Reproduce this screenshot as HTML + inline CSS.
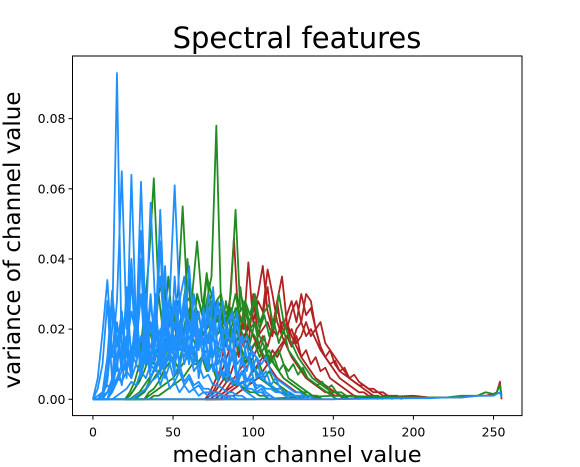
<!DOCTYPE html>
<html><head><meta charset="utf-8"><style>
body{margin:0;background:#fff;}
svg{display:block;font-family:"DejaVu Sans","Liberation Sans",sans-serif;}
</style></head><body>
<svg id="chart" width="580" height="467">
<rect width="580" height="467" fill="#fff"/>
<text x="297" y="48" text-anchor="middle" font-size="29">Spectral features</text>
<text x="297" y="462" text-anchor="middle" font-size="22.5">median channel value</text>
<text transform="translate(20,240) rotate(-90)" text-anchor="middle" font-size="23">variance of channel value</text>
<g id="plot"></g>
<g id="axes"></g>
</svg>
<script>
// values in thousandths of variance
const blueStart = 0, blueStep = 3;
const blueSeries = [
[0,0,1,5,20,93,10,30,12,25,8,15,6,10,4,8,3,5,2,4,2,3,1,2,1,1,1,1,0],
[0,6,19,34,12,28,65,20,40,15,30,10,22,8,15,6,10,5,8,4,6,3,4,2,2,1,1,1,1,0],
[0,0,0,8,31,15,25,12,64,20,48,14,30,12,20,9,14,7,10,5,7,4,5,3,3,2,2,1,1,1,0],
[0,0,0,0,5,12,20,15,25,18,62,20,56,25,35,18,28,14,20,10,15,8,10,6,7,4,4,3,2,2,1,1,0],
[0,0,0,0,2,5,8,10,15,12,18,14,22,18,54,20,30,61,28,35,20,25,15,22,12,18,10,15,8,12,6,8,5,6,4,4,3,3,2,2,1,1,1,0],
[0,0,0,0,0,1,2,3,5,4,8,6,10,8,12,10,15,12,28,14,20,18,25,15,30,20,26,18,22,25,15,18,12,10,8,6,5,4,3,3,2,1,1,1,0],
[0,0,1,2,4,6,10,8,14,10,18,12,15,20,12,25,18,14,22,16,38,20,18,15,24,12,20,28,14,18,10,12,8,14,6,8,5,4,6,3,2,2,1,1,1,0],
[0,0,0,0,0,0,0,0,0,1,2,3,5,6,8,10,12,10,15,12,18,14,20,16,18,22,15,20,18,24,20,16,18,14,12,10,12,8,6,5,4,3,2,2,1,1,0],
[0,3,10,28,5,18,8,32,10,22,6,26,9,30,7,20,12,28,8,18,10,24,6,15,8,20,5,12,6,14,4,8,3,6,2,3,1,1,0],
[0,0,2,12,30,8,25,6,35,12,40,10,28,15,45,12,25,8,30,14,22,10,18,12,26,8,14,6,10,4,6,3,2,1,0],
[0,0,0,0,3,10,4,15,6,20,8,30,10,25,14,38,12,22,16,30,10,20,14,26,9,32,12,18,8,20,6,12,5,8,3,4,2,1,0],
[0,0,0,2,6,22,9,18,7,26,10,20,8,24,15,28,10,35,14,26,12,30,18,24,16,22,28,14,20,12,25,10,16,8,12,6,8,4,3,2,1,0],
[0,1,2,4,3,6,5,8,6,10,7,12,9,14,10,16,12,18,10,15,12,14,10,12,8,10,6,8,5,6,4,5,3,3,2,2,1,1,0]
];
const greenStart = 20, greenStep = 3;
const greenSeries = [
[0,1,3,5,8,12,10,15,12,18,14,20,16,22,18,25,20,28,35,78,25,20,18,22,15,12,10,8,6,5,4,3,2,2,1,1,1,0],
[0,2,5,10,25,40,63,30,35,20,25,15,20,12,15,10,12,8,10,6,8,5,6,4,4,3,2,2,1,1,0],
[0,0,1,2,4,6,8,10,14,20,25,30,55,28,30,25,20,35,30,25,28,22,30,54,25,28,20,22,18,15,12,10,8,6,5,4,3,2,1,1,0],
[0,0,0,1,2,4,6,8,10,12,15,20,25,22,30,45,28,25,30,22,26,20,24,30,22,25,20,18,15,12,14,10,8,6,5,4,3,2,2,1,1,0],
[0,0,0,0,0,1,2,3,4,5,6,8,10,12,14,16,18,20,22,18,20,25,22,26,20,28,24,30,22,25,27,20,30,22,18,15,12,10,8,6,5,4,3,2,2,1,0],
[0,0,0,0,0,0,1,1,2,3,4,5,6,8,10,10,12,14,12,15,14,16,18,15,20,17,14,16,12,15,10,12,14,10,8,10,7,9,6,5,4,5,3,4,2,2,1,1,1,0],
[0,1,3,6,12,20,15,30,18,35,20,28,22,40,18,30,25,20,28,18,24,15,20,12,16,10,12,8,10,6,8,5,4,3,2,1,0],
[0,0,0,1,2,5,8,12,10,16,14,22,18,26,20,30,24,36,22,28,30,20,26,18,32,20,16,22,14,18,10,12,8,10,6,5,4,3,2,1,0],
[0,0,0,0,0,2,3,5,8,10,12,9,15,12,18,14,20,16,22,25,18,28,20,24,30,26,22,28,20,24,18,22,16,20,14,12,10,8,6,5,4,3,2,1,0]
];
const redStart = 70, redStep = 3;
const redSeries = [
[0,2,5,8,15,25,46,20,15,22,18,15,12,10,8,6,5,4,3,2,2,1,1,1,0],
[0,1,2,4,6,10,15,25,20,39,22,28,25,37,30,22,18,15,12,10,8,6,5,4,3,2,2,1,1,0],
[0,0,1,2,4,6,10,15,18,20,25,30,38,25,20,28,35,22,18,15,12,10,8,6,5,4,3,2,1,1,0],
[0,0,0,1,2,3,4,6,8,10,12,15,18,15,20,18,22,20,25,28,22,30,28,20,15,12,10,8,6,5,4,3,2,2,1,1,1,0],
[0,0,0,0,1,2,3,4,5,6,8,10,12,10,14,12,15,18,20,16,18,22,18,20,15,12,14,10,8,9,6,7,5,4,3,3,2,2,1,1,1,0],
[0,0,0,0,0,1,1,2,3,4,5,6,8,10,12,14,16,18,15,20,22,18,20,17,14,12,10,11,8,7,6,5,4,4,3,2,2,1,1,0],
[0,1,3,6,10,14,20,12,26,15,30,18,24,32,20,28,18,22,15,18,12,14,10,12,8,9,6,5,4,3,2,1,0],
[0,0,0,1,2,4,6,8,10,12,15,18,20,22,18,26,20,24,28,22,30,24,26,20,22,16,14,12,10,8,6,5,4,3,2,1,0]
];
const tailX = [0,50,100,150,200,210,220,230,240,245,250,252,254,255];
const redTail = [0,0,0,0,1,0.5,0.5,0.5,1,1,1.5,2,5,0];
const greenTail = [0,0,0,1,0.5,0.5,0.5,1,1,2,1.5,2,4,1];
const blueTail = [0,0,0,0,0.3,0.3,0.5,0.5,1,1,1,1.5,2,0.5];
const xTicks = [0,50,100,150,200,250];
const yTicks = [0,0.02,0.04,0.06,0.08];

const L=72.5,R=522,T=56,B=415.6;
const xMin=-12.75,xMax=267.75,yMin=-0.00466,yMax=0.09786;
function xs(v){return L+(v-xMin)/(xMax-xMin)*(R-L);}
function ys(v){return B-(v-yMin)/(yMax-yMin)*(B-T);}
const NS="http://www.w3.org/2000/svg";
const plot=document.getElementById('plot');
const axes=document.getElementById('axes');
const clip=document.createElementNS(NS,'clipPath');clip.id='c';
const cr=document.createElementNS(NS,'rect');
cr.setAttribute('x',L);cr.setAttribute('y',T);cr.setAttribute('width',R-L);cr.setAttribute('height',B-T);
clip.appendChild(cr);document.getElementById('chart').appendChild(clip);
plot.setAttribute('clip-path','url(#c)');
function line(xv,yv,color,name){
  let d='';
  for(let i=0;i<yv.length;i++){d+=(i?'L':'M')+xs(xv[i]).toFixed(2)+' '+ys(yv[i]/1000).toFixed(2);}
  const p=document.createElementNS(NS,'path');
  p.setAttribute('d',d);p.setAttribute('fill','none');p.setAttribute('stroke',color);
  p.setAttribute('stroke-width','1.8');p.setAttribute('stroke-linejoin','round');
  
  
  plot.appendChild(p);
}
function group(series,start,step,color,prefix){
  series.forEach((s,k)=>{
    const xv=s.map((_,i)=>start+i*step);
    line(xv,s,color,prefix+'-series-'+(k+1));
  });
}
group(redSeries,redStart,redStep,'#b22222','red');
line(tailX,redTail,'#b22222','red-tail');
group(greenSeries,greenStart,greenStep,'#228b22','green');
line(tailX,greenTail,'#228b22','green-tail');
group(blueSeries,blueStart,blueStep,'#1e90ff','blue');
line(tailX,blueTail,'#1e90ff','blue-tail');

const frame=document.createElementNS(NS,'rect');
frame.setAttribute('x',L);frame.setAttribute('y',T);frame.setAttribute('width',R-L);frame.setAttribute('height',B-T);
frame.setAttribute('fill','none');frame.setAttribute('stroke','#000');frame.setAttribute('stroke-width','1');


axes.appendChild(frame);
xTicks.forEach(v=>{
  const x=xs(v);
  const t=document.createElementNS(NS,'line');
  t.setAttribute('x1',x);t.setAttribute('x2',x);t.setAttribute('y1',B);t.setAttribute('y2',B+4);t.setAttribute('stroke','#000');
  
  
  axes.appendChild(t);
  const tx=document.createElementNS(NS,'text');
  tx.setAttribute('x',x);tx.setAttribute('y',B+21);tx.setAttribute('text-anchor','middle');tx.setAttribute('font-size','12.5');
  tx.textContent=v;
  
  
  axes.appendChild(tx);
});
yTicks.forEach(v=>{
  const y=ys(v);
  const t=document.createElementNS(NS,'line');
  t.setAttribute('x1',L-4);t.setAttribute('x2',L);t.setAttribute('y1',y);t.setAttribute('y2',y);t.setAttribute('stroke','#000');
  
  
  axes.appendChild(t);
  const tx=document.createElementNS(NS,'text');
  tx.setAttribute('x',L-7);tx.setAttribute('y',y+4.5);tx.setAttribute('text-anchor','end');tx.setAttribute('font-size','12.5');
  tx.textContent=v.toFixed(2);
  
  
  axes.appendChild(tx);
});
</script>
</body></html>
